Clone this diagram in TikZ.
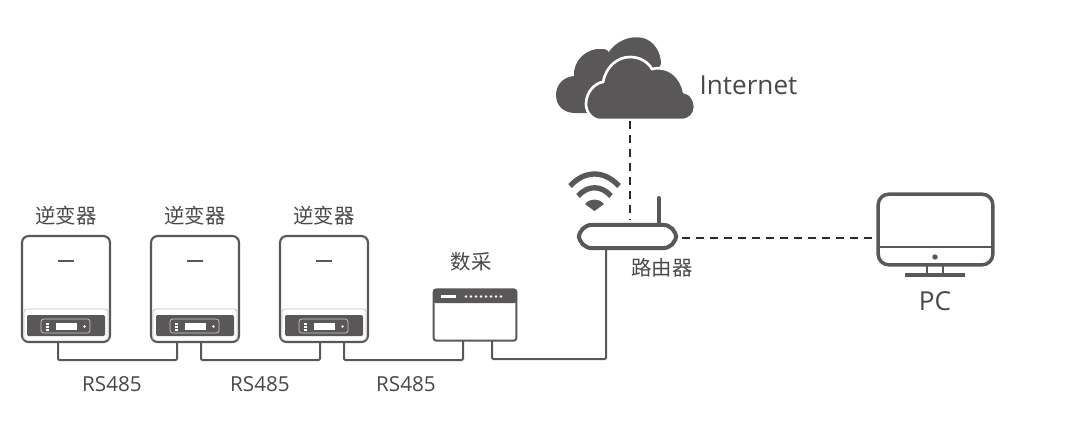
\documentclass[tikz,border=0pt]{standalone}
\usepackage{fontspec}
\setmainfont{Open Sans}
\newfontfamily\cjk{Noto Sans CJK SC}
\definecolor{devgray}{HTML}{595757}
\definecolor{textgray}{HTML}{484848}
\definecolor{dashgray}{HTML}{2B2B2B}
\tikzset{
	case/.style={draw=devgray,line width=1.6pt,rounded corners=5pt,inner sep=0pt,outer sep=0pt,fill=white},
	cable/.style={draw=devgray,line width=1.5pt,rounded corners=1pt},
	link/.style={draw=dashgray,line width=1.5pt,dash pattern=on 6pt off 4.5pt},
	tag/.style={text=textgray,inner sep=0pt,font=\fontsize{15.5}{16}\selectfont},
	cjktag/.style={text=textgray,inner sep=0pt,font=\cjk\fontsize{15.3}{16}\selectfont}
}
\begin{document}
\begin{tikzpicture}[x=0.75pt,y=-0.75pt]
		\useasboundingbox(0,0) rectangle(1080,433);
		% inverters
		\foreach \name/\dx in {inva/0,invb/129,invc/258}{
			\begin{scope}[shift={(\dx,0)}]
				\node[case,minimum width=66pt,minimum height=79.5pt] (\name) at(66,289){};
				\draw[devgray!35,line width=0.6pt,rounded corners=2pt](24,340)--(24,309)--(108,309)--(108,340);
				\draw[devgray,line width=1.5pt](58,261)--(74,261);
				\fill[devgray,rounded corners=1pt](27,315) rectangle(105,336);
				\draw[white!70!devgray,line width=0.5pt,rounded corners=2pt](41,319) rectangle(90,333);
				\fill[white](56,323) rectangle(77,330);
				\foreach \y in {323,326,329} \fill[white](46,\y) rectangle(49,\y+2);
				\fill[white](84.5,326.5) circle(1.4);
				\node[cjktag] (\name-label) at(66,216){逆变器};
			\end{scope}
		}
		\coordinate (inva-out) at(58,342);
		\coordinate (invb-in) at(177,342);
		\coordinate (invb-out) at(201,342);
		\coordinate (invc-in) at(320,342);
		\coordinate (invc-out) at(344,342);
		% data logger
		\node[case,rounded corners=2pt,line width=1.5pt,minimum width=62pt,minimum height=38.5pt] (logger) at(475,315){};
		\fill[devgray,rounded corners=2pt](433,289) rectangle(517,303);
		\fill[white](441,295) rectangle(456,298);
		\foreach \x in {466,471,...,501} \fill[white](\x,296.5) circle(1.3);
		\node[cjktag] (logger-label) at(471,262){数采};
		\coordinate (logger-in) at(463,341);
		\coordinate (logger-out) at(492,341);
		% router
		\node[case,rounded corners=10pt,line width=3pt,minimum width=73pt,minimum height=17.5pt] (router) at(627.5,236.5){};
		\coordinate (antenna) at(659,223);
		\coordinate (router-lan) at(606,250);
		\coordinate (router-up) at(630,220);
		\coordinate (router-pc) at(682,238);
		\draw[devgray,line width=3pt,line cap=round](antenna)--(659,198);
		\node[cjktag] (router-label) at(662,268){路由器};
		% wifi
		\draw[devgray,line width=4pt](570,186) .. controls (585,170) and (604,170) .. (619,186);
		\draw[devgray,line width=4pt](578,196) .. controls (588,185) and (601,185) .. (611,196);
		\fill[devgray](585,204) .. controls (590,198) and (599,198) .. (604,204)--(594.5,211)--cycle;
		% cloud
		\fill[devgray](575,113) .. controls (563,113) and (556,105) .. (556,95)
			.. controls (556,85) and (563,77) .. (574,76)
			.. controls (573,60) and (587,48) .. (601,49)
			.. controls (606,49) and (609,50) .. (608,53)
			.. controls (616,41) and (630,35) .. (643,38)
			.. controls (654,41) and (661,52) .. (661,64)--(640,100)--(590,113)--cycle;
		\draw[fill=devgray,draw=white,line width=2pt](600,120) .. controls (592,120) and (586,112) .. (586,104)
			.. controls (586,92) and (595,83) .. (603,82)
			.. controls (606,67) and (617,57) .. (630,57)
			.. controls (640,57) and (648,62) .. (652,69)
			.. controls (668,65) and (681,76) .. (684,92)
			.. controls (691,93) and (695,100) .. (695,107)
			.. controls (695,114) and (690,120) .. (682,120)--cycle;
		\coordinate (cloud-down) at(630,121);
		\node[tag,font=\fontsize{19.6}{20}\selectfont] (cloud-label) at(748.5,85){Internet};
		% pc
		\node[case,line width=2.6pt,rounded corners=8pt,minimum width=86pt,minimum height=53pt,fill=none] (pc) at(935.5,229.5){};
		\coordinate (pc-in) at(872,238);
		\draw[devgray,line width=2.2pt](pc.west|-0,247)--(pc.east|-0,247);
		\fill[devgray](935,257) circle(2.7);
		\draw[devgray,line width=2pt](927,266)--(927,275)(943,266)--(943,275);
		\draw[devgray,line width=2.6pt](905,275)--(965,275);
		\node[tag,font=\fontsize{19.6}{20}\selectfont] (pc-label) at(935,301){PC};
		% links
		\draw[link](cloud-down)--(router-up);
		\draw[link](router-pc)--(pc-in);
		\draw[cable](inva-out)--++(0,18)-|(invb-in);
		\draw[cable](invb-out)--++(0,18)-|(invc-in);
		\draw[cable](invc-out)--++(0,18)-|(logger-in);
		\draw[cable](logger-out)--++(0,18)-|(router-lan);
		% bus labels
		\node[tag] (bus-a) at(112,384){RS485};
		\node[tag] (bus-b) at(260,384){RS485};
		\node[tag] (bus-c) at(406,384){RS485};
		\end{tikzpicture}
\end{document}
